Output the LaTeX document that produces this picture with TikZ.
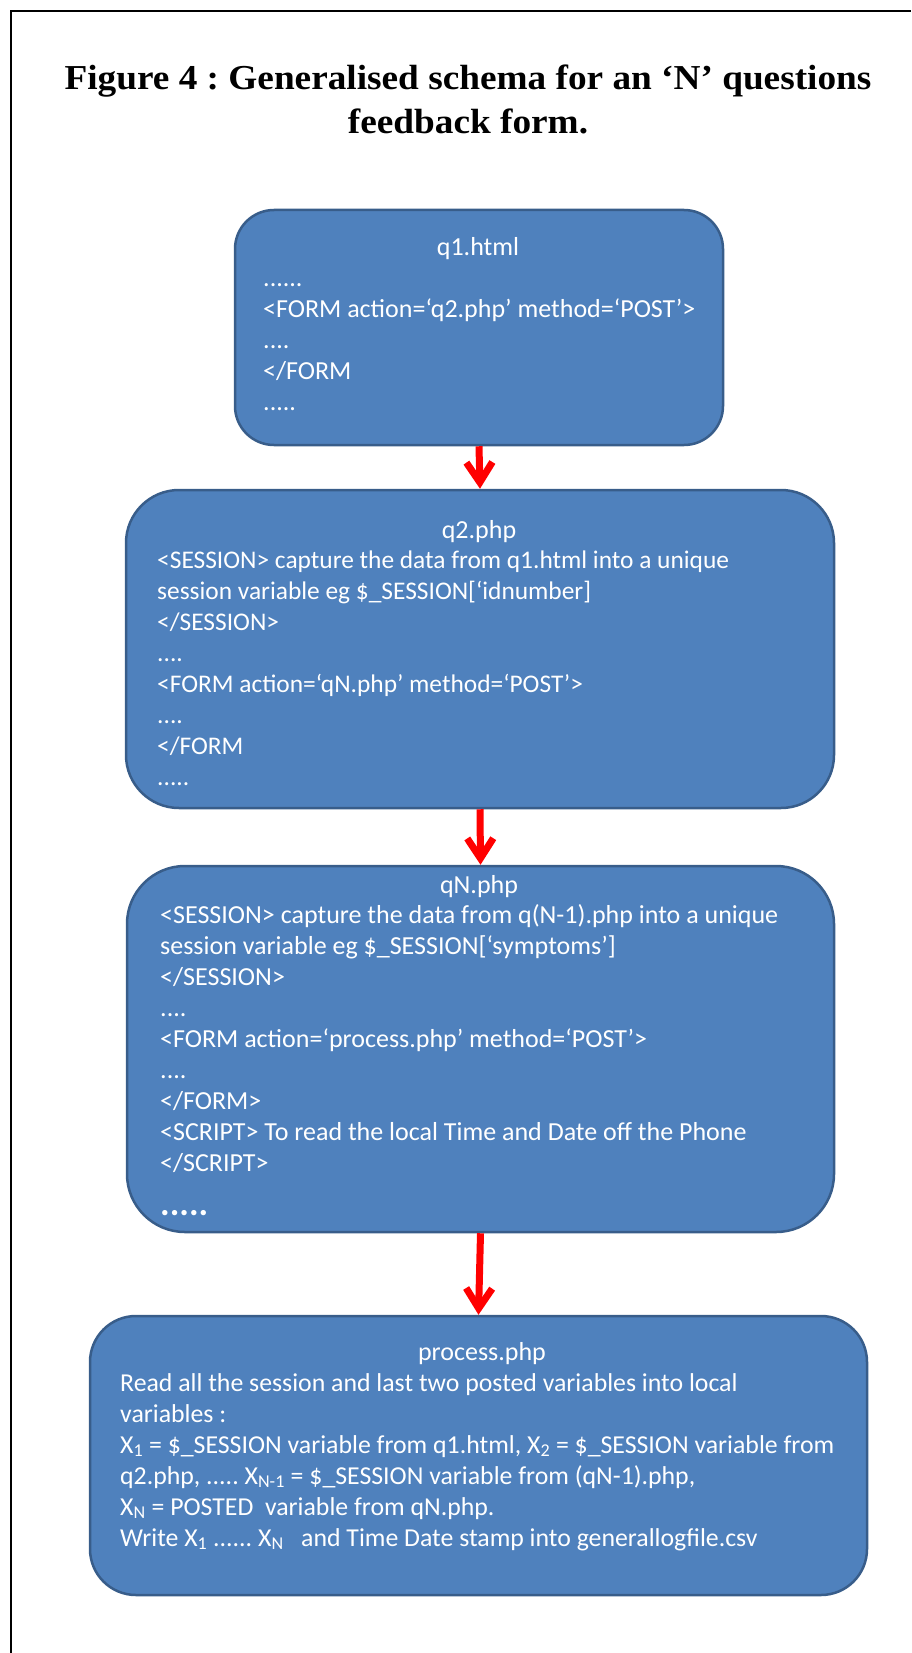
\documentclass[tikz,border=0pt]{standalone}
\usepackage{fontspec}
\usepackage{graphicx}
\setmainfont{Liberation Serif}
\newfontfamily\calib{Carlito}
\usetikzlibrary{arrows.meta}
\definecolor{boxfill}{HTML}{4F81BD}
\definecolor{boxline}{HTML}{385D8A}
\frenchspacing
\begin{document}
\begin{tikzpicture}[x=1pt,y=-1pt,
  box/.style={draw=boxline, fill=boxfill, line width=2.5pt, inner sep=0pt},
  ttl/.style={anchor=base, inner sep=0pt, text=white, font=\calib\fontsize{26}{31}\selectfont},
  body/.style={anchor=north west, inner sep=0pt, text=white, align=left, font=\calib\fontsize{26}{31}\selectfont},
  head/.style={anchor=base, inner sep=0pt, font=\bfseries\fontsize{35}{44}\selectfont},
  flow/.style={draw=red, line width=7pt, -{Straight Barb[length=20pt,width=26pt]}}
]
\useasboundingbox (0,0) rectangle (911,1653);
\draw[line width=2pt] (11,1653) -- (11,11) -- (911,11);

\node[head] (t1) at (468,90) {\scalebox{1.065}[1]{Figure 4 : Generalised schema for an ‘N’ questions}};
\node[head] (t2) at (468,134) {\scalebox{1.065}[1]{feedback form.}};

\node[box, minimum width=488pt, minimum height=235pt, rounded corners=39pt] (b1) at (479,327.5) {};
\node[box, minimum width=708pt, minimum height=318pt, rounded corners=53pt] (b2) at (480,649) {};
\node[box, minimum width=707pt, minimum height=366pt, rounded corners=58pt] (b3) at (480.5,1049) {};
\node[box, minimum width=777pt, minimum height=279pt, rounded corners=46pt] (b4) at (478.5,1455.5) {};

\node[ttl] (h1) at (478,255) {q1.html};
\node[body] (x1) at (263,264.3) {\strut......\\<FORM action=‘q2.php’ method=‘POST’>\\....\\</FORM\\.....};

\node[ttl] (h2) at (479,538) {q2.php};
\node[body, font=\calib\fontsize{25.4}{31}\selectfont] (x2) at (157,546.3) {\strut<SESSION> capture the data from q1.html into a unique\\session variable eg \$\_SESSION[‘idnumber]\\</SESSION>\\....\\<FORM action=‘qN.php’ method=‘POST’>\\....\\</FORM\\.....};

\node[ttl] (h3) at (479,893) {qN.php};
\node[body] (x3) at (160,901.3) {\strut<SESSION> capture the data from q(N-1).php into a unique\\session variable eg \$\_SESSION[‘symptoms’]\\</SESSION>\\....\\<FORM action=‘process.php’ method=‘POST’>\\....\\</FORM>\\<SCRIPT> To read the local Time and Date off the Phone\\</SCRIPT>};
\node[anchor=base west, inner sep=0pt, text=white, font=\calib\bfseries\fontsize{36}{40}\selectfont] (d3) at (160,1215) {.....};

\node[ttl] (h4) at (482,1360) {process.php};
\node[body, font=\calib\fontsize{25.8}{31}\selectfont] (x4) at (120,1369.3) {\strut Read all the session and last two posted variables into local\\variables :\\X\textsubscript{1} = \$\_SESSION variable from q1.html, X\textsubscript{2} = \$\_SESSION variable from\\q2.php, ..... X\textsubscript{N-1} = \$\_SESSION variable from (qN-1).php,\\X\textsubscript{N} = POSTED\ \ variable from qN.php.\\Write X\textsubscript{1} ...... X\textsubscript{N}\ \ \ and Time Date stamp into generallogfile.csv};

\draw[flow] (b1.south) -- (b2.north);
\draw[flow] (b2.south) -- (b3.north);
\draw[flow] (b3.south) -- (b4.north);
\end{tikzpicture}
\end{document}
